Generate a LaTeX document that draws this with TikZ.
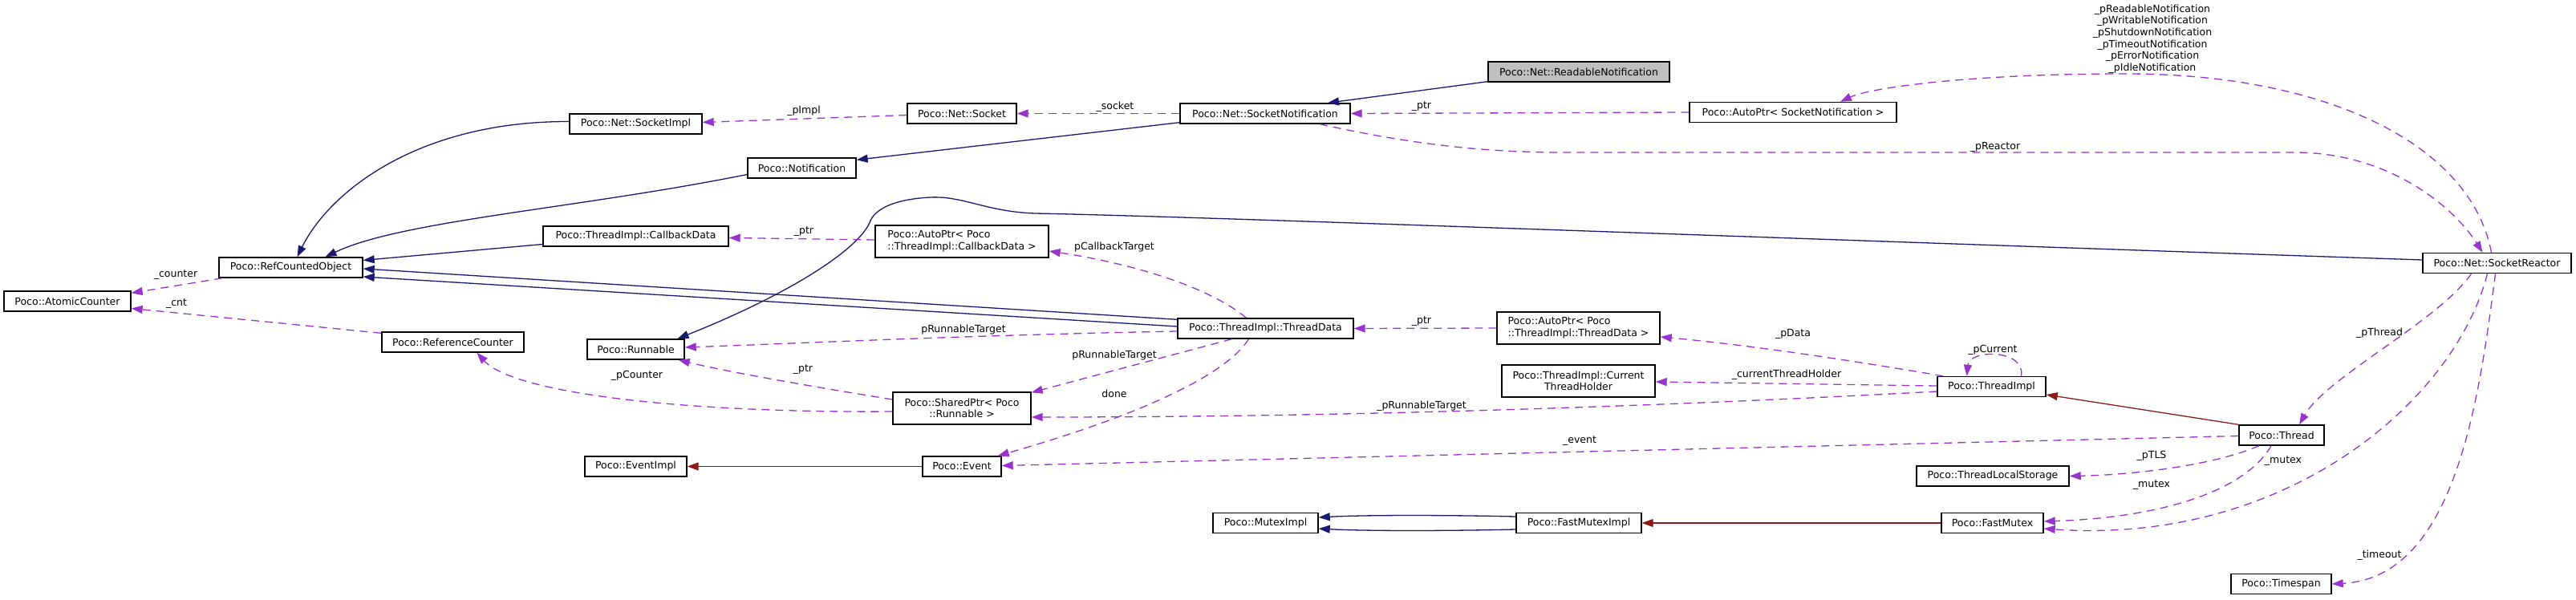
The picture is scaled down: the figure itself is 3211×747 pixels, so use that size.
\documentclass[tikz,border=0pt]{standalone}
\usepackage{fontspec}
\setmainfont{DejaVu Sans}
\usetikzlibrary{arrows.meta,calc}
\definecolor{inhblue}{HTML}{191970}
\definecolor{privred}{HTML}{8B1A1A}
\definecolor{usepurple}{HTML}{9A32CD}
\definecolor{boxgray}{HTML}{BFBFBF}
\tikzset{
  cls/.style={draw=black, line width=1.4pt, fill=white, minimum height=25pt, inner xsep=2pt, inner ysep=0pt,
    font=\fontsize{12.5}{14.6}\selectfont, text=black},
  clsl/.style={cls, minimum height=40pt, align=left},
  clsc/.style={cls, minimum height=40pt, align=center},
  tipA/.style={-{Triangle[length=14pt,width=10pt]}},
  inh/.style={draw=inhblue, line width=1.3pt, tipA},
  priv/.style={draw=privred, line width=1.3pt, tipA},
  uses/.style={draw=usepurple, line width=1.3pt, dash pattern=on 10pt off 7pt, tipA},
  lbl/.style={font=\fontsize{12.5}{14.6}\selectfont, inner sep=0pt, text=black, align=center}
}
\begin{document}
\begin{tikzpicture}[x=1pt,y=-1pt]
\useasboundingbox (0,0) rectangle (3211,747);
% nodes
\node[cls, fill=boxgray, minimum width=226pt] (rn) at (1968,89.5) {Poco::Net::ReadableNotification};
\node[cls, minimum width=212pt] (sn) at (1577,141.5) {Poco::Net::SocketNotification};
\node[cls, minimum width=258pt] (apsn) at (2235,140) {Poco::AutoPtr< SocketNotification >};
\node[cls, minimum width=136pt] (sock) at (1199,141.5) {Poco::Net::Socket};
\node[cls, minimum width=165pt] (simpl) at (792.5,154.5) {Poco::Net::SocketImpl};
\node[cls, minimum width=135pt] (notif) at (999.5,209.5) {Poco::Notification};
\node[cls, minimum width=179pt] (rco) at (362.5,333.5) {Poco::RefCountedObject};
\node[cls, minimum width=158pt] (atom) at (84,375.5) {Poco::AtomicCounter};
\node[cls, minimum width=177pt] (refc) at (564.5,426.5) {Poco::ReferenceCounter};
\node[cls, minimum width=231pt] (cbd) at (792.5,294.5) {Poco::ThreadImpl::CallbackData};
\node[clsl, minimum width=216pt] (apcbd) at (1199,301) {Poco::AutoPtr< Poco\\::ThreadImpl::CallbackData >};
\node[cls, minimum width=121pt] (run) at (792.5,435.5) {Poco::Runnable};
\node[clsc, minimum width=172pt] (sp) at (1199,509) {Poco::SharedPtr< Poco\\::Runnable >};
\node[cls, minimum width=127pt] (evi) at (792.5,581.5) {Poco::EventImpl};
\node[cls, minimum width=98pt] (ev) at (1199,581.5) {Poco::Event};
\node[cls, minimum width=219pt] (td) at (1577.5,409.5) {Poco::ThreadImpl::ThreadData};
\node[clsl, minimum width=203pt] (aptd) at (1967.5,409) {Poco::AutoPtr< Poco\\::ThreadImpl::ThreadData >};
\node[clsc, minimum width=191pt] (cth) at (1967.5,475) {Poco::ThreadImpl::Current\\ThreadHolder};
\node[cls, minimum width=131pt] (mi) at (1577.5,652) {Poco::MutexImpl};
\node[cls, minimum width=156pt] (fmi) at (1968,652) {Poco::FastMutexImpl};
\node[cls, minimum width=135pt] (ti) at (2482.5,482) {Poco::ThreadImpl};
\node[cls, minimum width=106pt] (th) at (2844,542.5) {Poco::Thread};
\node[cls, minimum width=190pt] (tls) at (2484,593.5) {Poco::ThreadLocalStorage};
\node[cls, minimum width=127pt] (fm) at (2483.5,652) {Poco::FastMutex};
\node[cls, minimum width=125pt] (ts) at (2843.5,728) {Poco::Timespan};
\node[cls, minimum width=185pt] (sr) at (3112.5,328) {Poco::Net::SocketReactor};

% public inheritance
\draw[inh] ($(rn.south west)+(0,-1)$) -- ($(sn.north)+(78,0)$);
\draw[inh] ($(sn.south west)+(0,-2)$) -- ($(notif.north east)+(0,3)$);
\draw[inh] ($(simpl.west)+(0,-3)$) .. controls (520,151) and (410,240) .. ($(rco.north)+(8,0)$);
\draw[inh] ($(notif.west)+(0,8)$) .. controls (720,260) and (500,275) .. ($(rco.north)+(43,0)$);
\draw[inh] ($(cbd.west)+(0,10)$) -- ($(rco.east)+(0,-9)$);
\draw[inh] ($(td.north west)+(0,2)$) -- ($(rco.east)+(0,1.5)$);
\draw[inh] ($(td.west)+(0,-2.5)$) -- ($(rco.east)+(0,11.5)$);
\draw[inh] ($(sr.west)+(0,-4)$) .. controls (2300,300) and (1500,270) .. (1290,266)
   .. controls (1230,264) and (1200,244) .. (1160,246)
   .. controls (1120,248) and (1093,258) .. (1085,275)
   .. controls (1075,305) and (1000,360) .. ($(run.north)+(52,0)$);
\draw[inh] ($(fmi.west)+(0,-8)$) .. controls (1800,642) and (1700,642) .. ($(mi.east)+(0,-7)$);
\draw[inh] ($(fmi.west)+(0,8)$) .. controls (1800,662) and (1700,662) .. ($(mi.east)+(0,7)$);

% private inheritance
\draw[priv] (fm.west) -- (fmi.east);
\draw[priv] (ev.west) -- (evi.east);
\draw[priv] (th.north west) -- ($(ti.east)+(0,10)$);

% usage
\draw[uses] ($(rco.south west)+(5,0)$) -- ($(atom.north east)+(0,3)$);
\draw[uses] ($(refc.north west)+(0,2)$) -- ($(atom.east)+(0,9)$);
\draw[uses] ($(sock.west)+(0,2)$) -- ($(simpl.east)+(0,-2)$);
\draw[uses] (sn.west) -- (sock.east);
\draw[uses] (apsn.west) -- (sn.east);
\draw[uses] ($(sr.north)+(-7,0)$) .. controls (3080,180) and (2900,92) .. (2650,92)
   .. controls (2450,92) and (2330,110) .. ($(apsn.north)+(59,0)$);
\draw[uses] ($(sn.south)+(68,0)$) .. controls (1760,180) and (1850,190) .. (1950,190) -- (2860,190)
   .. controls (2980,190) and (3060,260) .. ($(sr.north)+(-18,0)$);
\draw[uses] ($(apcbd.west)+(0,-2)$) -- ($(cbd.east)+(0,2)$);
\draw[uses] ($(td.north)+(-24,0)$) .. controls (1510,360) and (1420,330) .. ($(apcbd.east)+(0,12)$);
\draw[uses] ($(td.west)+(0,3.5)$) .. controls (1200,418) and (1000,428) .. ($(run.east)+(0,-2.5)$);
\draw[uses] ($(td.south)+(-42,0)$) -- ($(sp.north east)+(0,1)$);
\draw[uses] ($(td.south)+(-21,0)$) .. controls (1530,465) and (1430,515) .. ($(ev.north east)+(-5,0)$);
\draw[uses] (aptd.west) -- (td.east);
\draw[uses] ($(ti.north west)+(8,0)$) .. controls (2340,455) and (2200,432) .. ($(aptd.east)+(0,11)$);
\draw[uses] ($(ti.west)+(0,-1)$) -- ($(cth.east)+(0,1)$);
\draw[uses] ($(ti.west)+(0,6)$) .. controls (2100,505) and (1700,520) .. ($(sp.east)+(0,11)$);
\draw[uses] ($(ti.north)+(37,0)$) .. controls (2525,435) and (2455,435) .. ($(ti.north)+(-31,0)$);
\draw[uses] ($(sp.west)+(0,-11)$) .. controls (1000,480) and (900,462) .. ($(run.south east)+(-8,0)$);
\draw[uses] ($(sp.west)+(0,4)$) .. controls (850,515) and (640,490) .. ($(refc.south)+(30,0)$);
\draw[uses] ($(th.west)+(0,1)$) -- ($(ev.east)+(0,-1)$);
\draw[uses] ($(sr.south)+(-32,0)$) .. controls (3040,400) and (2900,470) .. ($(th.north)+(22,0)$);
\draw[uses] ($(th.south)+(-28,0)$) .. controls (2760,580) and (2660,592) .. (tls.east);
\draw[uses] ($(th.south)+(-13,0)$) .. controls (2800,610) and (2700,645) .. ($(fm.east)+(0,-2)$);
\draw[uses] ($(sr.south)+(-12,0)$) .. controls (3060,500) and (2850,680) .. ($(fm.east)+(0,7)$);
\draw[uses] ($(sr.south)+(-2,0)$) .. controls (3090,500) and (3060,720) .. (ts.east);

% labels
\node[lbl] (l1) at (219,343) {\_counter};
\node[lbl] (l2) at (220,379) {\_cnt};
\node[lbl] (l3) at (1002,138) {\_pImpl};
\node[lbl] (l4) at (1390,133) {\_socket};
\node[lbl] (l5) at (1772,133) {\_ptr};
\node[lbl] (l6) at (2683,48.5) {\_pReadableNotification\\\_pWritableNotification\\\_pShutdownNotification\\\_pTimeoutNotification\\\_pErrorNotification\\\_pIdleNotification};
\node[lbl] (l7) at (2487,183) {\_pReactor};
\node[lbl] (l8) at (1002,289) {\_ptr};
\node[lbl] (l9) at (1389,308) {pCallbackTarget};
\node[lbl] (l10) at (1201,411) {pRunnableTarget};
\node[lbl] (l11) at (1389,443) {pRunnableTarget};
\node[lbl] (l12) at (1389,491) {done};
\node[lbl] (l13) at (1772,401) {\_ptr};
\node[lbl] (l14) at (2235,416) {\_pData};
\node[lbl] (l15) at (2227,467) {\_currentThreadHolder};
\node[lbl] (l16) at (1772,506) {\_pRunnableTarget};
\node[lbl] (l17) at (2484,436) {\_pCurrent};
\node[lbl] (l18) at (1001,461) {\_ptr};
\node[lbl] (l19) at (794,468) {\_pCounter};
\node[lbl] (l20) at (1969,550) {\_event};
\node[lbl] (l21) at (2966,415) {\_pThread};
\node[lbl] (l22) at (2682,568) {\_pTLS};
\node[lbl] (l23) at (2846,575) {\_mutex};
\node[lbl] (l24) at (2682,605) {\_mutex};
\node[lbl] (l25) at (2966,692) {\_timeout};
\end{tikzpicture}
\end{document}
